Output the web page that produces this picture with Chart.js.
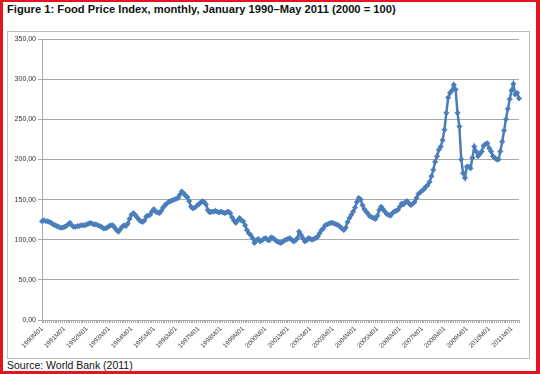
<!DOCTYPE html>
<html>
<head>
<meta charset="utf-8">
<script src="https://cdn.jsdelivr.net/npm/chart.js@4.4.1/dist/chart.umd.min.js"></script>
<style>
  html, body { margin: 0; padding: 0; background: #fff; }
  #frame { position: absolute; left: 0; top: 0; width: 540px; height: 374px; box-sizing: border-box;
           border-style: solid; border-color: #e3161f; border-width: 2px 4px 3px 3px; background: #fff; }
  #title { position: absolute; left: 7px; top: 4px; font: bold 11.2px/11.2px 'Liberation Sans', Arial, sans-serif; color: #111; white-space: nowrap; }
  #box { position: absolute; left: 7px; top: 31px; width: 523px; height: 328px; box-sizing: border-box; border: 1px solid #bdbdbd; }
  #source { position: absolute; left: 7px; top: 360px; font: 10.5px/10.5px 'Liberation Sans', Arial, sans-serif; color: #111; white-space: nowrap; }
  #c { position: absolute; left: 0; top: 0; }
</style>
</head>
<body>
<div id="frame"></div>
<div id="title">Figure 1: Food Price Index, monthly, January 1990–May 2011 (2000 = 100)</div>
<div id="box"></div>
<div id="source">Source: World Bank (2011)</div>
<canvas id="c" width="540" height="374"></canvas>
<script>
// ---- data ----
const years = [1990,1991,1992,1993,1994,1995,1996,1997,1998,1999,2000,2001,2002,2003,2004,2005,2006,2007,2008,2009,2010,2011];
const v1990 = [123,124,123,123,122,121,119,118,117,116,115,115];
const v1991 = [116,117,119,121,118,116,116,117,117,118,118,118];
const v1992 = [119,120,121,120,119,119,118,117,116,114,114,115];
const v1993 = [117,118,118,115,112,110,113,116,118,117,120,126];
const v1994 = [131,133,131,128,125,123,122,124,129,130,131,135];
const v1995 = [138,135,134,133,136,140,143,145,147,148,149,150];
const v1996 = [151,152,156,160,158,155,153,148,141,139,140,142];
const v1997 = [144,146,148,147,144,137,134,135,135,136,135,134];
const v1998 = [135,134,133,134,135,133,128,124,121,124,127,124];
const v1999 = [123,118,112,108,106,102,96,99,101,98,99,101];
const v2000 = [102,100,99,103,102,100,98,97,96,97,99,100];
const v2001 = [101,102,100,98,99,102,110,106,102,98,99,102];
const v2002 = [101,100,101,102,104,108,112,114,118,119,120,121];
const v2003 = [121,120,119,118,116,114,112,115,122,127,131,135];
const v2004 = [140,147,152,150,143,138,135,132,129,128,127,126];
const v2005 = [130,137,141,138,135,132,131,130,133,135,136,137];
const v2006 = [141,145,144,147,148,145,143,145,147,152,157,159];
const v2007 = [161,163,166,168,172,179,187,197,204,212,216,224];
const v2008 = [237,258,277,283,286,293,287,258,241,200,183,177];
const v2009 = [191,191,189,202,216,210,204,207,210,217,219,220];
const v2010 = [214,210,204,202,200,200,210,222,236,250,263,275];
const v2011 = [286,294,281,283,276];
const foodIndex = [].concat(v1990,v1991,v1992,v1993,v1994,v1995,v1996,v1997,v1998,v1999,v2000,
  v2001,v2002,v2003,v2004,v2005,v2006,v2007,v2008,v2009,v2010,v2011);
const months = ['01','02','03','04','05','06','07','08','09','10','11','12'];
const categories = [];
years.forEach(y => months.forEach(m => categories.push(y + 'M' + m)));
categories.length = foodIndex.length;
const yTicks = [0,50,100,150,200,250,300,350];
const yTickLabels = ['0,00','50,00','100,00','150,00','200,00','250,00','300,00','350,00'];

// ---- chart ----
Chart.defaults.font.family = "'Liberation Sans', Arial, sans-serif";
const gridColor = '#a9a9a9';
new Chart(document.getElementById('c'), {
  type: 'line',
  data: {
    labels: categories,
    datasets: [{
      data: foodIndex,
      borderColor: '#4a7ebb',
      backgroundColor: '#4a7ebb',
      borderWidth: 2.5,
      pointStyle: 'rectRot',
      pointRadius: 2.6,
      pointBorderWidth: 0.8,
      pointBackgroundColor: '#4a7ebb',
      pointBorderColor: '#4a7ebb',
      tension: 0
    }]
  },
  options: {
    responsive: false,
    animation: false,
    layout: { padding: { left: 0, top: 39, right: 21, bottom: 0 } },
    plugins: { legend: { display: false }, tooltip: { enabled: false }, title: { display: false } },
    scales: {
      x: {
        type: 'category',
        offset: false,
        afterFit: s => { s.height = 54; },
        grid: { display: true, drawOnChartArea: false, drawTicks: true, tickLength: 3, color: gridColor, lineWidth: 1 },
        border: { display: true, color: gridColor, width: 1 },
        ticks: {
          autoSkip: false, maxRotation: 45, minRotation: 45, padding: 2,
          font: { size: 6.5 }, color: '#444',
          callback: function(val, i) { return (i % 12 === 0) ? categories[i] : ''; }
        }
      },
      y: {
        min: 0, max: 350,
        afterFit: s => { s.width = 42; },
        afterBuildTicks: s => { s.ticks = yTicks.map(v => ({ value: v })); },
        grid: { color: gridColor, lineWidth: 1, drawTicks: true, tickLength: 4 },
        border: { display: true, color: gridColor, width: 1 },
        ticks: {
          padding: 2, font: { size: 7 }, color: '#333',
          callback: function(val) { return yTickLabels[yTicks.indexOf(val)]; }
        }
      }
    }
  }
});
</script>
</body>
</html>
